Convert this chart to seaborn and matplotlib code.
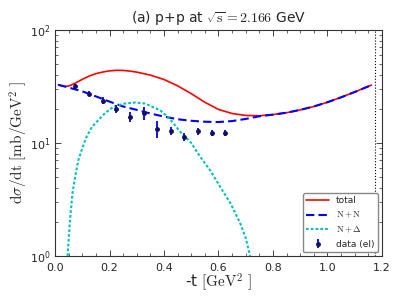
import numpy as np
import pandas as pd
import seaborn as sns
import matplotlib
matplotlib.use("Agg")
import matplotlib.pyplot as plt
from matplotlib.ticker import AutoMinorLocator, FixedLocator

# curves
t_nn = [0.012, 0.05, 0.1, 0.125, 0.15, 0.2, 0.25, 0.3, 0.35, 0.4, 0.45, 0.5, 0.55,
        0.6, 0.65, 0.7, 0.75, 0.8, 0.85, 0.9, 0.95, 1.0, 1.05, 1.1, 1.162]
nn = [32.7, 30.9, 28.6, 27.2, 25.8, 23.2, 21.0, 19.6, 18.2, 17.1, 16.2, 15.7, 15.4,
      15.3, 15.6, 16.3, 17.2, 17.8, 18.5, 19.6, 21.0, 22.9, 25.3, 28.2, 32.5]

t_tot = [0.012, 0.025, 0.037, 0.05, 0.06, 0.075, 0.1, 0.125, 0.15, 0.175, 0.2, 0.225,
         0.25, 0.275, 0.3, 0.35, 0.4, 0.45, 0.5, 0.55, 0.6, 0.65, 0.7, 0.75, 0.8, 0.85,
         0.9, 0.95, 1.0, 1.05, 1.1, 1.162]
total = [32.7, 31.9, 31.6, 31.9, 32.6, 33.9, 36.5, 39.0, 41.0, 42.4, 43.4, 43.9,
         43.8, 43.2, 42.3, 39.8, 36.4, 32.0, 27.3, 22.9, 19.8, 18.2, 17.5, 17.4, 17.8,
         18.5, 19.6, 21.0, 22.9, 25.3, 28.2, 32.5]

t_nd = [0.046, 0.055, 0.064, 0.075, 0.086, 0.1, 0.116, 0.135, 0.159, 0.185, 0.214,
        0.25, 0.294, 0.33, 0.385, 0.42, 0.459, 0.5, 0.532, 0.57, 0.606, 0.645, 0.679,
        0.7, 0.716]
ndelta = [1.0, 2.1, 3.6, 5.2, 7.1, 9.0, 11.4, 13.8, 15.9, 18.5, 20.8, 22.2, 22.8,
          22.3, 19.5, 16.5, 12.6, 10.0, 7.6, 5.7, 4.1, 2.9, 1.97, 1.45, 1.0]

# elastic data
t_data = [0.075, 0.125, 0.175, 0.225, 0.275, 0.325, 0.375, 0.425, 0.475, 0.525, 0.575, 0.625]
y_data = [31.6, 27.3, 23.7, 20.0, 17.1, 18.3, 13.3, 12.8, 11.3, 12.7, 12.2, 12.3]
y_err = [1.6, 1.5, 1.6, 1.5, 1.8, 2.3, 2.3, 1.0, 0.9, 0.9, 0.8, 0.8]

t_max = 1.174

sns.set_style("ticks")
plt.rcParams["font.family"] = ["DejaVu Sans"]
plt.rcParams["mathtext.fontset"] = "cm"
plt.rcParams["xtick.direction"] = "in"
plt.rcParams["ytick.direction"] = "in"
plt.rcParams["xtick.top"] = True
plt.rcParams["ytick.right"] = True

fig = plt.figure(figsize=(3.99, 2.99), dpi=100)
ax = fig.add_axes([0.138, 0.144, 0.819, 0.756])

sns.lineplot(x=t_tot, y=total, color="red", lw=1.2, ax=ax, sort=False,
             estimator=None, label="total")
sns.lineplot(x=t_nn, y=nn, color="b", lw=1.5, ax=ax, sort=False, estimator=None,
             linestyle=(0, (4, 2)), label=r"$\mathrm{N+N}$")
sns.lineplot(x=t_nd, y=ndelta, color="c", lw=1.5, ax=ax, sort=False,
             estimator=None, linestyle=(0, (1.3, 1.0)), label=r"$\mathrm{N+\Delta}$")
ax.errorbar(t_data, y_data, yerr=y_err, fmt="o", color="#101060", ecolor="b",
            elinewidth=1.3, markersize=2.5, capsize=0, label="data (el)")
ax.axvline(t_max, color="k", ls=":", lw=0.8)

ax.set_yscale("log")
ax.set_xlim(0, 1.2)
ax.set_ylim(1, 100)
ax.xaxis.set_major_locator(FixedLocator(np.arange(0, 1.21, 0.2)))
ax.xaxis.set_minor_locator(AutoMinorLocator(4))
ax.tick_params(which="major", length=4, width=0.6, labelsize=8)
ax.tick_params(axis="x", which="major", pad=5)
ax.tick_params(axis="y", which="major", pad=3)
ax.tick_params(which="minor", length=2, width=0.5)
for s in ax.spines.values():
    s.set_linewidth(0.8)
    s.set_color("#333333")

ax.set_title(r"(a) p+p at $\sqrt{\mathrm{s}}=2.166$ GeV", fontsize=10, pad=6)
ax.set_xlabel(r"-t $[\mathrm{GeV}^2\ ]$", fontsize=11, labelpad=-1)
ax.set_ylabel(r"$\mathrm{d}\sigma/\mathrm{dt}\ [\mathrm{mb/GeV}^2\ ]$", fontsize=11,
              labelpad=0.5)

ax.legend(loc="lower right", fontsize=6.5, frameon=True, fancybox=True,
          edgecolor="#888888", handlelength=2.5, borderaxespad=0.4,
          labelspacing=0.5, framealpha=1)

fig.savefig("out.png", dpi=100)
